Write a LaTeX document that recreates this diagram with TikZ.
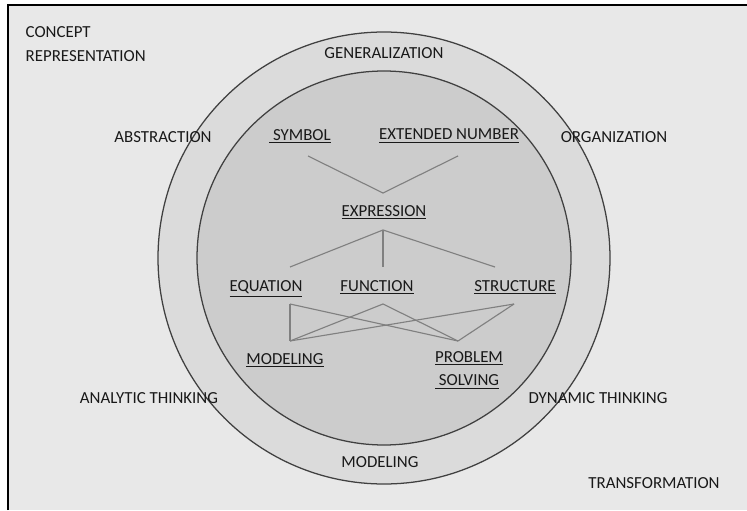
\documentclass[tikz,border=0pt]{standalone}
\usepackage{fontspec}
\setmainfont{Carlito}
\usetikzlibrary{positioning}

\begin{document}
\begin{tikzpicture}[
    word/.style={font=\fontsize{12}{17}\selectfont, text=black!90, inner sep=1pt},
    concept/.style={word},
    link/.style={draw=black!50, line width=0.8pt},
    ring/.style={draw=black!75, line width=0.9pt}
]
\useasboundingbox (0,0) rectangle (18.675,12.75);

% Background and frame
\fill[black!9] (0.2,0) rectangle (18.675,12.625);
\draw[line width=1.1pt] (0.2,0) -- (0.2,12.625) -- (18.675,12.625);

% Center point
\coordinate (C) at (9.6,6.3);

% Rings
\draw[ring, fill=black!14] (C) circle (5.65);
\draw[ring, fill=black!20] (C) circle (4.675);

% Outer labels
\node[word, align=left, anchor=west] (rep) at (0.6,11.65) {CONCEPT\\REPRESENTATION};
\node[word] (gen) at (9.6,11.425) {GENERALIZATION};
\node[word] (abs) at (4.075,9.325) {ABSTRACTION};
\node[word] (org) at (15.35,9.325) {ORGANIZATION};
\node[word] (ana) at (3.725,2.8) {ANALYTIC THINKING};
\node[word] (dyn) at (14.95,2.8) {DYNAMIC THINKING};
\node[word] (mod) at (9.5,1.2) {MODELING};
\node[word] (tra) at (16.35,0.675) {TRANSFORMATION};

% Concepts
\node[concept] (sym) at (7.5,9.35) {\underline{\ SYMBOL}};
\node[concept] (ext) at (11.225,9.35) {\underline{EXTENDED NUMBER}};
\node[concept] (exp) at (9.6,7.45) {\underline{EXPRESSION}};
\node[concept] (equ) at (6.65,5.53) {\underline{EQUATION}};
\node[concept] (fun) at (9.425,5.575) {\underline{FUNCTION}};
\node[concept] (str) at (12.875,5.575) {\underline{STRUCTURE}};
\node[concept] (mdl) at (7.125,3.75) {\underline{MODELING}};
\node[concept, align=left] (pro) at (11.725,3.5) {\underline{PROBLEM}\\\underline{\ SOLVING}};

% Link ends
\coordinate (symB) at (7.7,8.85);
\coordinate (extB) at (11.45,8.85);
\coordinate (expT) at (9.575,7.925);
\coordinate (expB) at (9.575,7.0);
\coordinate (equT) at (7.25,6.075);
\coordinate (funT) at (9.575,6.075);
\coordinate (strT) at (12.375,6.075);
\coordinate (equB) at (7.25,5.15);
\coordinate (funB) at (9.575,5.15);
\coordinate (strB) at (12.85,5.15);
\coordinate (mdlT) at (7.25,4.225);
\coordinate (proT) at (11.45,4.225);

% Links
\draw[link] (symB) -- (expT) -- (extB);
\foreach \t in {equT, funT, strT} {
    \draw[link] (expB) -- (\t);
}
\foreach \a in {equB, funB, strB} {
    \foreach \b in {mdlT, proT} {
        \draw[link] (\a) -- (\b);
    }
}

\end{tikzpicture}
\end{document}
